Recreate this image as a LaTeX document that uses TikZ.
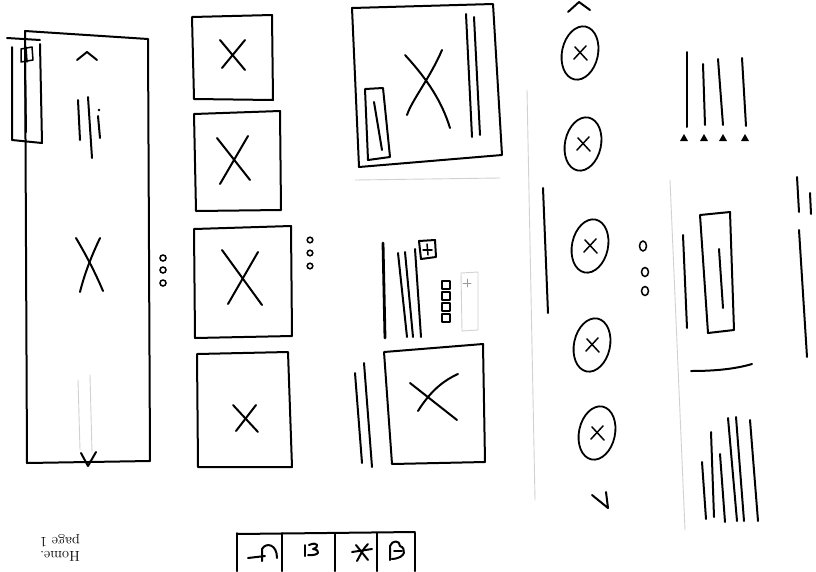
\documentclass[tikz,border=0pt]{standalone}
\begin{document}
\begin{tikzpicture}[x=1pt,y=-1pt,
  ink/.style={line width=2pt,line cap=round,line join=round},
  bold/.style={line width=2.8pt,line cap=round,line join=round},
  thinink/.style={line width=1.5pt,line cap=round,line join=round},
  faint/.style={line width=0.9pt,black!18,line cap=round,line join=round},
  dotmark/.style={line width=1.5pt},
  oval/.style={line width=1.8pt}]
\useasboundingbox[fill=white] (0,0) rectangle (816,571);

% ---------- panel 1 : tall column ----------
\draw[ink] (25,31) -- (148,39) -- (150,461) -- (27,463) -- cycle;
\draw[ink] (12,47) -- (12,140) -- (42,143) -- (40,44);
\draw[ink] (7,38) -- (40,40);
\draw[ink] (25,63) -- (26,132);
\draw[thinink] (21,49) -- (32,47) -- (33,60) -- (21,62) -- cycle;
\draw[thinink] (26,47) -- (27,62);
\draw[ink] (77,60) -- (87,52) -- (97,60);
\draw[ink] (78,100) -- (80,140);
\draw[ink] (88,97) -- (92,158);
\fill (99,110) circle (1.4);
\draw[ink] (98,116) -- (100,138);
\draw[faint] (78,380) -- (80,450);
\draw[faint] (90,375) -- (92,452);
\draw[ink] (76,238) .. controls (86,255) and (95,272) .. (103,291);
\draw[ink] (100,238) .. controls (92,255) and (85,272) .. (80,292);
\draw[ink] (81,453) -- (88,466) -- (96,452);
\draw[dotmark] (163,258) circle (3) (163,270) circle (3) (163,283) circle (3);

% ---------- panel 2 : four squares ----------
\draw[ink] (192,17) -- (272,15) -- (273,100) -- (194,99) -- cycle;
\draw[ink] (220,40) -- (245,70);
\draw[ink] (245,40) -- (222,68);
\draw[ink] (194,114) -- (280,111) -- (281,210) -- (196,211) -- cycle;
\draw[ink] (217,138) -- (250,180);
\draw[ink] (248,136) -- (220,184);
\draw[ink] (194,229) -- (291,226) -- (292,336) -- (195,338) -- cycle;
\draw[ink] (222,250) -- (262,305);
\draw[ink] (258,252) -- (228,304);
\draw[ink] (197,354) -- (288,352) -- (292,467) -- (198,467) -- cycle;
\draw[ink] (233,405) -- (258,432);
\draw[ink] (256,405) -- (236,431);
\draw[dotmark] (310,240) circle (2.8) (310,253) circle (2.8) (310,266) circle (2.8);

% ---------- panel 3 ----------
\draw[ink] (352,8) -- (493,4) -- (502,155) -- (359,167) -- cycle;
\draw[ink] (365,89) -- (383,88) -- (390,157) -- (368,160) -- cycle;
\draw[ink] (374,102) -- (382,150);
\draw[ink] (405,55) .. controls (428,80) and (442,102) .. (450,128);
\draw[ink] (442,50) .. controls (430,78) and (412,100) .. (407,115);
\draw[ink] (466,14) -- (472,137);
\draw[ink] (474,17) -- (480,135);
\draw[faint] (355,180) -- (500,178);

\draw[bold] (383,243) -- (385,338);
\draw[ink] (398,253) -- (407,337);
\draw[ink] (405,252) -- (413,337);
\draw[ink] (415,249) -- (421,337);
\draw[ink] (419,241) -- (435,240) -- (436,257) -- (421,259) -- cycle;
\draw[thinink] (427,244) -- (428,255);
\draw[thinink] (423,250) -- (432,250);
\foreach \yy in {281,292,303,314}
  \draw[thinink] (442,\yy) rectangle (450,\yy+8);
\draw[faint] (461,273) -- (478,272) -- (478,330) -- (462,331) -- cycle;
\draw[faint,black!40] (467,279) -- (467,287) (463,283) -- (471,283);

\draw[ink] (384,352) -- (483,344) -- (485,462) -- (392,464) -- cycle;
\draw[ink] (410,383) -- (457,420);
\draw[ink] (458,374) .. controls (440,382) and (428,395) .. (418,411);
\draw[ink] (355,373) -- (362,463);
\draw[ink] (364,363) -- (372,467);
\draw[faint] (527,90) -- (535,500);

% ---------- panel 4 : ovals ----------
\draw[ink] (568,12) -- (579,2) -- (590,10);
\foreach \cx/\cy in {580/53, 583/144, 590/246, 592/345, 597/433} {
  \draw[oval,rotate around={-12:(\cx,\cy)}] (\cx,\cy) ellipse [x radius=18, y radius=27];
  \draw[thinink] (\cx-5,\cy-6) -- (\cx+7,\cy+7);
  \draw[thinink] (\cx+6,\cy-7) -- (\cx-6,\cy+6);
}
\draw[ink] (543,188) -- (548,313);
\draw[dotmark] (643,246) ellipse [x radius=3.5, y radius=5];
\draw[dotmark] (645,272) ellipse [x radius=3.5, y radius=4.5];
\draw[dotmark] (645,291) ellipse [x radius=3.5, y radius=4.5];
\draw[ink] (592,495) -- (608,508) -- (606,492);

% ---------- panel 5 ----------
\draw[ink] (687,52) -- (687,127);
\draw[ink] (703,64) -- (705,125);
\draw[ink] (718,59) -- (723,125);
\draw[ink] (742,58) -- (746,126);
\foreach \tx in {684,704,723,745}
  \fill (\tx,134) -- (\tx-4,141) -- (\tx+4,141) -- cycle;
\draw[ink] (683,235) -- (687,328);
\draw[ink] (700,215) -- (730,212) -- (734,330) -- (708,333) -- cycle;
\draw[ink] (719,249) -- (723,308);
\draw[ink] (691,371) .. controls (715,371) and (735,369) .. (752,364);
\draw[ink] (797,177) -- (799,212);
\draw[ink] (799,230) -- (807,357);
\draw[ink] (810,193) -- (811,214);
\draw[ink] (702,462) -- (706,519);
\draw[ink] (711,432) -- (714,517);
\draw[ink] (720,454) -- (725,522);
\draw[ink] (728,418) -- (737,521);
\draw[ink] (736,417) -- (744,521);
\draw[ink] (750,420) -- (758,521);
\draw[faint] (670,180) -- (685,530);

% ---------- bottom ----------
\node[rotate=180,align=center,font=\Large,inner sep=0pt] (home) at (60,548)
  {Home.\\[-4pt]page 1};
\draw[ink] (237,534) -- (415,532);
\foreach \vx in {237,282,335,377,415}
  \draw[ink] (\vx,533) -- (\vx,571);
\draw[ink] (248,558) -- (265,556);
\draw[ink] (262,561) -- (262,549) .. controls (266,542) and (277,544) .. (277,558);
\draw[ink] (305,545) -- (305,556);
\draw[ink] (309,545) .. controls (318,541) and (320,547) .. (313,549)
  .. controls (321,550) and (320,556) .. (308,555);
\draw[ink] (352,552) -- (372,549);
\draw[ink] (356,545) -- (368,560);
\draw[ink] (368,544) .. controls (362,550) and (360,556) .. (357,561);
\draw[ink] (390,560) -- (390,546) .. controls (392,540) and (400,540) .. (400,546)
  .. controls (406,548) and (407,558) .. (392,559);
\draw[ink] (394,551) -- (402,551);
\end{tikzpicture}
\end{document}
